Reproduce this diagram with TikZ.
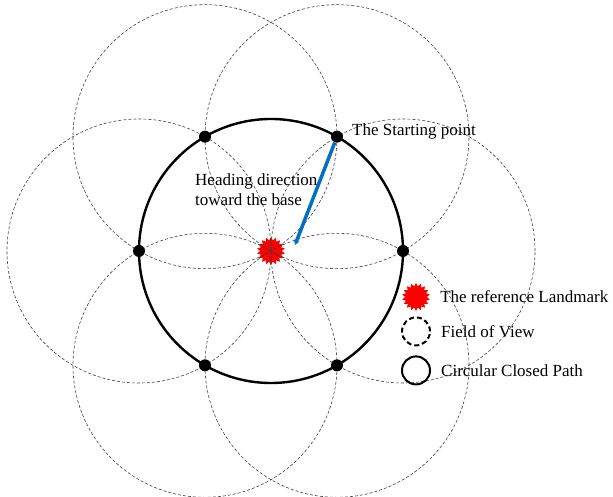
\documentclass[tikz,border=0pt]{standalone}
\usepackage{fontspec}
\setmainfont{Liberation Serif}
\usetikzlibrary{calc, shapes.geometric, positioning, arrows.meta}

\definecolor{headblue}{RGB}{0,112,192}

\tikzset{
    fov/.style={draw=black!75, densely dashed, line width=0.6pt},
    closedpath/.style={draw, line width=2.4pt},
    waypoint/.style={circle, fill=black, inner sep=0pt, minimum size=12pt},
    landmark/.style={star, star points=18, star point ratio=1.3, fill=red, inner sep=0pt, minimum size=28pt},
    lbl/.style={font=\fontsize{17}{20}\selectfont, inner sep=0pt},
}

\begin{document}
\begin{tikzpicture}[x=1pt, y=1pt, >=stealth]
    \useasboundingbox (0,0) rectangle (613,497);

    % =================================================================
    % 1. CENTRE, LANDMARK AND FIELDS OF VIEW
    % =================================================================
    \coordinate (c) at (271,246);
    \node[landmark] (lm) at (c) {};

    % one field of view round each stop on the path
    \foreach \a [count=\i from 0] in {0,60,...,300} {
        \coordinate (q\i) at ($(c)+(\a:132)$);
        \draw[fov] (q\i) circle (132);
    }

    % =================================================================
    % 2. CIRCULAR CLOSED PATH AND ITS STOPS
    % =================================================================
    \draw[closedpath] (c) circle (132);
    \foreach \i in {0,...,5} {
        \node[waypoint] (p\i) at (q\i) {};
    }

    % heading from the starting point toward the base
    \coordinate (tip) at (295,252);
    \draw[-{Stealth[length=5pt, width=6pt]}, headblue, line width=3.5pt] (p1) -- (tip);

    \node[lbl, anchor=west] (start) at (352,366) {The Starting point};
    \node[lbl, anchor=west, align=left] (heading) at (195,307) {Heading direction\\toward the base};

    % =================================================================
    % 3. LEGEND
    % =================================================================
    \node[landmark] (key1) at (416,200) {};
    \node[circle, draw, dash pattern=on 5pt off 3pt, line width=2pt, minimum size=28pt, inner sep=0pt,
          below=5pt of key1] (key2) {};
    \node[circle, draw, line width=2pt, minimum size=28pt, inner sep=0pt,
          below=9pt of key2] (key3) {};

    \node[lbl, right=13pt of key1] (txt1) {The reference Landmark};
    \node[lbl, right=10pt of key2] (txt2) {Field of View};
    \node[lbl, right=10pt of key3] (txt3) {Circular Closed Path};

\end{tikzpicture}
\end{document}
